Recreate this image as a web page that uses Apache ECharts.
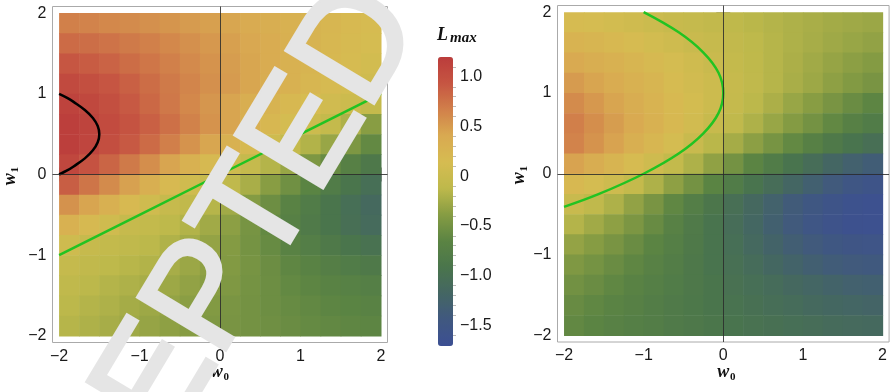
<!DOCTYPE html>
<html><head><meta charset="utf-8">
<script src="https://cdn.jsdelivr.net/npm/echarts@6/dist/echarts.min.js"></script>
<style>html,body{margin:0;padding:0;background:#fff}#c{width:890px;height:392px}</style>
</head><body><div id="c"></div><script>
// ---------- data ----------
const w0Cells = [-1.875,-1.625,-1.375,-1.125,-0.875,-0.625,-0.375,-0.125,0.125,0.375,0.625,0.875,1.125,1.375,1.625,1.875];
const w1Cells = [1.875,1.625,1.375,1.125,0.875,0.625,0.375,0.125,-0.125,-0.375,-0.625,-0.875,-1.125,-1.375,-1.625,-1.875];

// L_max, left panel (rows follow w1Cells, columns follow w0Cells)
const leftL = [
  [0.67,0.65,0.62,0.6,0.57,0.54,0.5,0.47,0.43,0.39,0.35,0.31,0.27,0.23,0.19,0.15],
  [0.8,0.78,0.75,0.71,0.67,0.62,0.57,0.52,0.47,0.42,0.37,0.32,0.27,0.22,0.17,0.13],
  [0.93,0.89,0.85,0.79,0.73,0.67,0.61,0.55,0.49,0.43,0.37,0.31,0.26,0.2,0.15,0.1],
  [1.05,1.0,0.94,0.87,0.79,0.71,0.64,0.57,0.5,0.43,0.36,0.3,0.23,0.17,0.11,0.06],
  [1.13,1.07,1.0,0.91,0.82,0.72,0.62,0.53,0.44,0.35,0.27,0.2,0.14,0.08,0.03,-0.06],
  [1.17,1.12,1.04,0.96,0.87,0.77,0.66,0.55,0.44,0.33,0.22,0.12,0.03,-0.06,-0.2,-0.38],
  [1.17,1.1,1.01,0.91,0.8,0.68,0.55,0.43,0.31,0.18,0.05,-0.06,-0.18,-0.3,-0.44,-0.6],
  [1.08,0.97,0.84,0.71,0.58,0.44,0.31,0.18,0.05,-0.05,-0.17,-0.3,-0.44,-0.58,-0.72,-0.86],
  [0.88,0.74,0.6,0.46,0.33,0.19,0.07,-0.04,-0.1,-0.22,-0.38,-0.52,-0.66,-0.8,-0.92,-1.03],
  [0.56,0.44,0.32,0.19,0.06,-0.03,-0.09,-0.16,-0.26,-0.4,-0.54,-0.68,-0.8,-0.92,-1.03,-1.12],
  [0.3,0.18,0.06,-0.03,-0.07,-0.12,-0.18,-0.26,-0.36,-0.48,-0.6,-0.72,-0.82,-0.92,-1.02,-1.1],
  [0.05,-0.03,-0.07,-0.1,-0.13,-0.19,-0.25,-0.32,-0.4,-0.49,-0.58,-0.68,-0.76,-0.84,-0.91,-0.97],
  [-0.05,-0.09,-0.12,-0.15,-0.18,-0.23,-0.29,-0.35,-0.41,-0.48,-0.55,-0.63,-0.69,-0.75,-0.8,-0.84],
  [-0.1,-0.13,-0.17,-0.2,-0.23,-0.28,-0.33,-0.38,-0.43,-0.49,-0.54,-0.6,-0.64,-0.68,-0.71,-0.74],
  [-0.13,-0.17,-0.2,-0.24,-0.28,-0.32,-0.37,-0.41,-0.46,-0.5,-0.54,-0.58,-0.61,-0.64,-0.66,-0.68],
  [-0.16,-0.2,-0.23,-0.27,-0.31,-0.35,-0.39,-0.43,-0.47,-0.5,-0.53,-0.56,-0.59,-0.61,-0.63,-0.64]
];

// L_max, right panel
const rightL = [
  [0.16,0.13,0.1,0.06,0.02,-0.02,-0.05,-0.08,-0.11,-0.14,-0.17,-0.2,-0.22,-0.25,-0.27,-0.29],
  [0.28,0.24,0.2,0.15,0.1,0.05,0.0,-0.04,-0.08,-0.12,-0.16,-0.2,-0.23,-0.27,-0.3,-0.33],
  [0.4,0.35,0.3,0.24,0.18,0.12,0.06,0.0,-0.06,-0.11,-0.16,-0.21,-0.26,-0.31,-0.36,-0.4],
  [0.5,0.44,0.38,0.31,0.24,0.16,0.09,0.03,-0.04,-0.1,-0.16,-0.22,-0.28,-0.35,-0.41,-0.47],
  [0.6,0.52,0.44,0.36,0.28,0.19,0.11,0.03,-0.05,-0.13,-0.21,-0.3,-0.38,-0.47,-0.56,-0.64],
  [0.68,0.58,0.49,0.4,0.3,0.2,0.09,-0.02,-0.1,-0.2,-0.3,-0.4,-0.5,-0.61,-0.72,-0.8],
  [0.65,0.55,0.45,0.34,0.23,0.12,-0.01,-0.14,-0.24,-0.36,-0.48,-0.6,-0.72,-0.84,-0.94,-1.02],
  [0.45,0.36,0.26,0.16,0.05,-0.07,-0.2,-0.34,-0.5,-0.65,-0.8,-0.94,-1.06,-1.18,-1.28,-1.35],
  [0.2,0.12,0.04,-0.06,-0.2,-0.35,-0.5,-0.66,-0.8,-0.94,-1.06,-1.18,-1.3,-1.41,-1.5,-1.56],
  [-0.01,-0.1,-0.2,-0.33,-0.47,-0.62,-0.76,-0.89,-1.02,-1.14,-1.26,-1.38,-1.48,-1.56,-1.62,-1.65],
  [-0.17,-0.26,-0.35,-0.45,-0.57,-0.7,-0.82,-0.94,-1.05,-1.17,-1.29,-1.41,-1.51,-1.59,-1.64,-1.65],
  [-0.32,-0.39,-0.47,-0.56,-0.65,-0.74,-0.84,-0.94,-1.03,-1.13,-1.23,-1.33,-1.41,-1.48,-1.52,-1.54],
  [-0.43,-0.49,-0.56,-0.63,-0.7,-0.78,-0.86,-0.94,-1.01,-1.08,-1.16,-1.24,-1.31,-1.37,-1.41,-1.43],
  [-0.51,-0.56,-0.62,-0.68,-0.74,-0.8,-0.86,-0.92,-0.98,-1.03,-1.08,-1.14,-1.19,-1.24,-1.28,-1.3],
  [-0.57,-0.62,-0.67,-0.72,-0.77,-0.82,-0.87,-0.92,-0.96,-1.0,-1.04,-1.08,-1.12,-1.16,-1.19,-1.21],
  [-0.61,-0.65,-0.7,-0.74,-0.78,-0.82,-0.86,-0.9,-0.94,-0.97,-1.0,-1.03,-1.06,-1.09,-1.11,-1.12]
];

// contour curves
const leftZeroW0 = [-2, -1, 0, 1, 2];
const leftZeroW1 = [-1, -0.5, 0, 0.5, 1];
const leftBlackW0 = [-2, -1.9, -1.82, -1.68, -1.58, -1.52, -1.5, -1.52, -1.58, -1.68, -1.82, -1.9, -2];
const leftBlackW1 = [0, 0.05, 0.1, 0.2, 0.3, 0.4, 0.5, 0.6, 0.7, 0.8, 0.9, 0.95, 1];
const rightZeroW0 = [-1, -0.56, -0.25, -0.06, 0, -0.06, -0.25, -0.56, -1, -1.56, -2];
const rightZeroW1 = [2, 1.75, 1.5, 1.25, 1, 0.75, 0.5, 0.25, 0, -0.25, -0.41];
const originLines = [0];

// ticks
const majorTicks = [-2, -1, 0, 1, 2];
const minorTicks = [-1.8,-1.6,-1.4,-1.2,-0.8,-0.6,-0.4,-0.2,0.2,0.4,0.6,0.8,1.2,1.4,1.6,1.8];
const barTicks = [1, 0.5, 0, -0.5, -1, -1.5];
const barTickLabels = ['1.0', '0.5', '0', '\u22120.5', '\u22121.0', '\u22121.5'];
const barMinor = [1.1,0.9,0.8,0.7,0.6,0.4,0.3,0.2,0.1,-0.1,-0.2,-0.3,-0.4,-0.6,-0.7,-0.8,-0.9,-1.1,-1.2,-1.3,-1.4,-1.6];
const barMin = -1.71, barMax = 1.2;

// ---------- build ----------
function cells(grid) {
  const out = [];
  w1Cells.forEach((w1, r) => w0Cells.forEach((w0, c) => out.push([w0, w1, grid[r][c]])));
  return out;
}
function pairs(xs, ys) { return xs.map((x, i) => [x, ys[i]]); }
const halfW = (w0Cells[1] - w0Cells[0]) / 2;
const halfH = (w1Cells[0] - w1Cells[1]) / 2;
function cellItem(params, api) {
  const cx = api.value(0), cy = api.value(1);
  const a = api.coord([cx - halfW, cy + halfH]);
  const b = api.coord([cx + halfW, cy - halfH]);
  return { type: 'rect', shape: { x: a[0], y: a[1], width: b[0] - a[0] + 0.6, height: b[1] - a[1] + 0.6 },
           style: { fill: api.visual('color') } };
}
const fmt = v => (v < 0 ? '\u2212' + Math.abs(v) : String(v));
const RMIN = -2.082, RMAX = 2.082;
const tickColor = '#9a9a9a';
const labelFont = 16;
function ax(gridIndex, position, values, len, labels) {
  return {
    type: 'value', gridIndex, position, min: RMIN, max: RMAX,
    axisLine: { show: false },
    axisTick: { show: true, inside: true, length: len, customValues: values, lineStyle: { color: tickColor, width: 1 } },
    axisLabel: labels ? { show: true, customValues: values, formatter: fmt, fontSize: labelFont,
      fontFamily: 'Liberation Sans', color: '#1a1a1a', margin: 6 } : { show: false },
    splitLine: { show: false }
  };
}
function axesFor(g) {
  return {
    x: [ax(g, 'bottom', majorTicks, 7, true), ax(g, 'bottom', minorTicks, 4, false),
        ax(g, 'top', majorTicks, 7, false), ax(g, 'top', minorTicks, 4, false)],
    y: [ax(g, 'left', majorTicks, 7, true), ax(g, 'left', minorTicks, 4, false),
        ax(g, 'right', majorTicks, 7, false), ax(g, 'right', minorTicks, 4, false)]
  };
}
const A0 = axesFor(0), A1 = axesFor(1);
const xAxes = A0.x.concat(A1.x, [{ type: 'value', gridIndex: 2, show: false, min: 0, max: 1 }]);
const yAxes = A0.y.concat(A1.y, [
  { type: 'value', gridIndex: 2, position: 'right', min: barMin, max: barMax,
    axisLine: { show: false },
    axisTick: { show: true, inside: false, length: 4, customValues: barTicks, lineStyle: { color: tickColor } },
    axisLabel: { show: true, customValues: barTicks, margin: 7, fontSize: labelFont, fontFamily: 'Liberation Sans', color: '#1a1a1a',
      formatter: v => barTickLabels[barTicks.indexOf(v)] !== undefined ? barTickLabels[barTicks.indexOf(v)] : String(v) },
    splitLine: { show: false } },
  { type: 'value', gridIndex: 2, position: 'right', min: barMin, max: barMax,
    axisLine: { show: false },
    axisTick: { show: true, inside: false, length: 3, customValues: barMinor, lineStyle: { color: '#bbb' } },
    axisLabel: { show: false }, splitLine: { show: false } }
]);

const green = '#22c322';
const axisMark = {
  silent: true, symbol: ['none', 'none'], label: { show: false },
  lineStyle: { color: '#2a2a2a', width: 1, type: 'solid', opacity: 0.85 },
  data: [{ xAxis: originLines[0] }, { yAxis: originLines[0] }]
};

const serif = 'Liberation Serif';
function subLabel(x, y, rot, main, sub) {
  return { type: 'group', x, y, rotation: rot, z: 50, children: [
    { type: 'text', x: -9.2, y: -2, style: { text: main, fontFamily: serif, fontStyle: 'italic', fontWeight: 'bold', fontSize: 18, fill: '#111', align: 'left', verticalAlign: 'middle' } },
    { type: 'text', x: 3.5, y: 2.8, style: { text: sub, fontFamily: serif, fontWeight: 'bold', fontSize: 11, fill: '#111', align: 'left', verticalAlign: 'middle' } }
  ] };
}

const option = {
  animation: false,
  backgroundColor: '#fff',
  grid: [
    { left: 52.5, top: 6.5, width: 335, height: 336, show: true, borderColor: '#aaa', borderWidth: 1, backgroundColor: 'transparent' },
    { left: 557.5, top: 5.5, width: 337, height: 336.5, show: true, borderColor: '#aaa', borderWidth: 1, backgroundColor: 'transparent' },
    { left: 438, top: 57, width: 15, height: 289, show: false }
  ],
  xAxis: xAxes,
  yAxis: yAxes,
  visualMap: {
    type: 'continuous', min: barMin, max: barMax, dimension: 2, seriesIndex: [0, 3],
    left: 438, top: 57, itemWidth: 15, itemHeight: 289, padding: 0, calculable: false, hoverLink: false,
    text: null, showLabel: false,
    inRange: { color: ['#3c4f93','#405880','#446663','#4a754c','#5b8443','#869c43','#beb94b','#d6bc51','#d9aa51','#d1804a','#c65542','#bb3c3b'] }
  },
  series: [
    { type: 'custom', xAxisIndex: 0, yAxisIndex: 0, renderItem: cellItem, data: cells(leftL), encode: { x: 0, y: 1 }, silent: true, clip: true },
    { type: 'line', xAxisIndex: 0, yAxisIndex: 0, data: pairs(leftZeroW0, leftZeroW1), symbol: 'none', silent: true,
      lineStyle: { color: green, width: 2.5 }, markLine: axisMark, z: 3 },
    { type: 'line', xAxisIndex: 0, yAxisIndex: 0, data: pairs(leftBlackW0, leftBlackW1), symbol: 'none', silent: true, smooth: 0.4,
      lineStyle: { color: '#000', width: 2.5 }, z: 3 },
    { type: 'custom', xAxisIndex: 4, yAxisIndex: 4, renderItem: cellItem, data: cells(rightL), encode: { x: 0, y: 1 }, silent: true, clip: true },
    { type: 'line', xAxisIndex: 4, yAxisIndex: 4, data: pairs(rightZeroW0, rightZeroW1), symbol: 'none', silent: true, smooth: 0.4,
      lineStyle: { color: green, width: 2.5 }, markLine: axisMark, z: 3 }
  ],
  graphic: [
    subLabel(220, 374, 0, 'w', '0'),
    subLabel(726.5, 374, 0, 'w', '0'),
    subLabel(12, 176, Math.PI / 2, 'w', '1'),
    subLabel(521.5, 175, Math.PI / 2, 'w', '1'),
    { type: 'text', x: 437, y: 35, z: 50, style: { text: 'L', fontFamily: serif, fontStyle: 'italic', fontWeight: 'bold', fontSize: 18, fill: '#111', align: 'left', verticalAlign: 'middle' } },
    { type: 'text', x: 450, y: 38.5, z: 50, style: { text: 'max', fontFamily: serif, fontStyle: 'italic', fontWeight: 'bold', fontSize: 15, fill: '#111', align: 'left', verticalAlign: 'middle' } },
    { type: 'text', x: 180, y: 346, rotation: 1.03, z: 100, style: { text: 'ACCEPTED', fontFamily: 'Liberation Sans', fontSize: 148, fill: '#e5e5e5', stroke: '#e5e5e5', lineWidth: 4, align: 'center', verticalAlign: 'middle' } }
  ]
};
const chart = echarts.init(document.getElementById('c'), null, { renderer: 'canvas' });
chart.setOption(option);
</script></body></html>
